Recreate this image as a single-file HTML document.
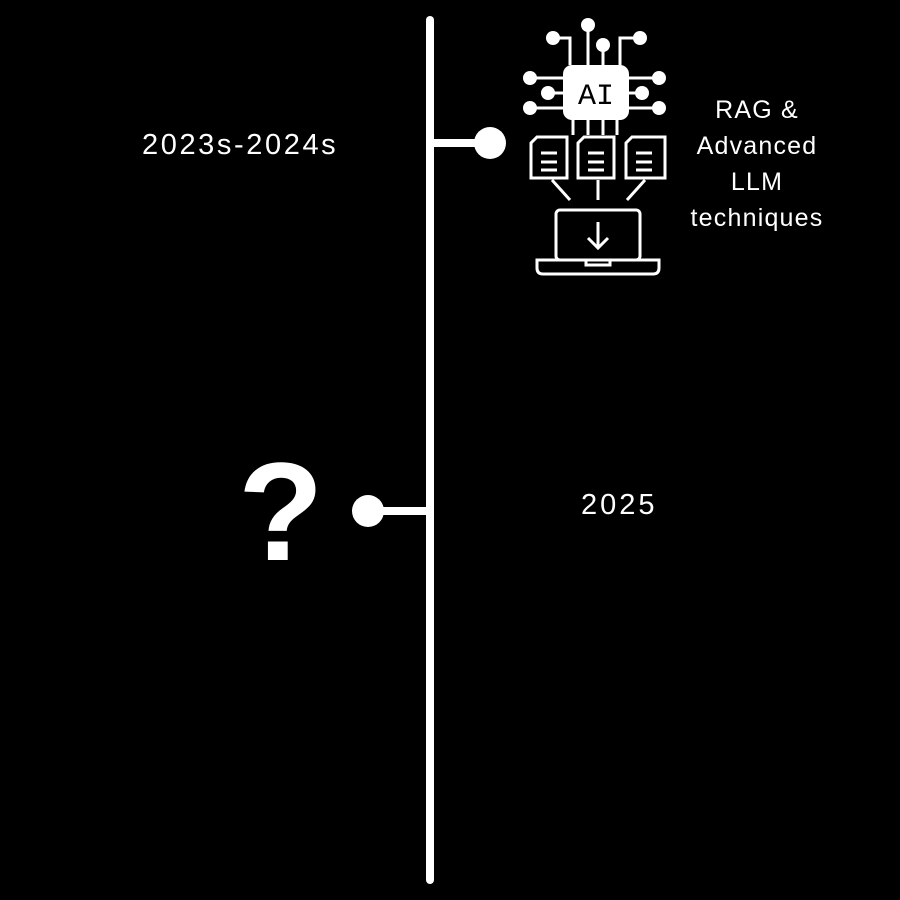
<!DOCTYPE html>
<html><head><meta charset="utf-8"><style>
html,body{margin:0;padding:0;background:#000;}
#c{position:relative;width:900px;height:900px;background:#000;overflow:hidden;font-family:"Liberation Sans","DejaVu Sans",sans-serif;color:#fff;}
.t{position:absolute;white-space:nowrap;}
</style></head><body>
<div id="c">
<svg width="900" height="900" style="position:absolute;left:0;top:0">
 <line x1="430" y1="20" x2="430" y2="880" stroke="#fff" stroke-width="8" stroke-linecap="round"/>
 <g>
  <line x1="430" y1="143" x2="490" y2="143" stroke="#fff" stroke-width="8"/>
  <circle cx="490" cy="143" r="16" fill="#fff"/>
 </g>
 <g>
  <line x1="368" y1="511" x2="430" y2="511" stroke="#fff" stroke-width="8"/>
  <circle cx="368" cy="511" r="16" fill="#fff"/>
 </g>
 <g stroke="#fff" stroke-width="3" fill="none">
  <path d="M553 38 H570 V65 M588 25 V65 M603 45 V65 M640 38 H620 V65"/>
  <path d="M530 78 H563 M548 93 H563 M530 108 H563 M629 78 H665 M629 93 H642 M629 108 H665"/>
  <path d="M573 120 V135 M588 120 V135 M603 120 V135 M617 120 V135"/>
  <g fill="#fff" stroke="none">
   <circle cx="553" cy="38" r="7"/><circle cx="588" cy="25" r="7"/><circle cx="603" cy="45" r="7"/><circle cx="640" cy="38" r="7"/>
   <circle cx="530" cy="78" r="7"/><circle cx="548" cy="93" r="7"/><circle cx="530" cy="108" r="7"/>
   <circle cx="659" cy="78" r="7"/><circle cx="642" cy="93" r="7"/><circle cx="659" cy="108" r="7"/>
   <rect x="563" y="65" width="66" height="55" rx="9"/>
  </g>
  <path d="M537 137 H567 V178 H531 V143 Z M584 137 H614 V178 H578 V143 Z M632 137 H665 V178 H626 V143 Z"/>
  <path d="M541 153 H557 M541 162 H557 M541 170 H557 M588 153 H604 M588 162 H604 M588 170 H604 M636 153 H652 M636 162 H652 M636 170 H652"/>
  <path d="M552 180 L570 200 M598 180 V200 M645 180 L627 200"/>
  <rect x="556" y="210" width="84" height="50" rx="4"/>
  <path d="M537 260 H659 V268 Q659 274 653 274 H543 Q537 274 537 268 Z"/>
  <path d="M586 260 V265 H610 V260"/>
  <path d="M598 222 V248 M588 238 L598 248 L608 238"/>
 </g>
 <text x="596" y="104" fill="#000" font-family="Liberation Mono,monospace" font-size="30" text-anchor="middle">AI</text>
</svg>
<div class="t" style="left:142px;top:129px;font-size:29px;letter-spacing:2.6px">2023s-2024s</div>
<div class="t" style="left:581px;top:489px;font-size:29px;letter-spacing:3px">2025</div>
<div class="t" style="left:677px;top:92px;width:160px;text-align:center;font-size:25px;line-height:36px;letter-spacing:1.2px">RAG &amp;<br>Advanced<br>LLM<br>techniques</div>
<div class="t" style="left:238px;top:442px;font-size:140px;font-weight:bold;line-height:140px">?</div>
</div>
</body></html>
